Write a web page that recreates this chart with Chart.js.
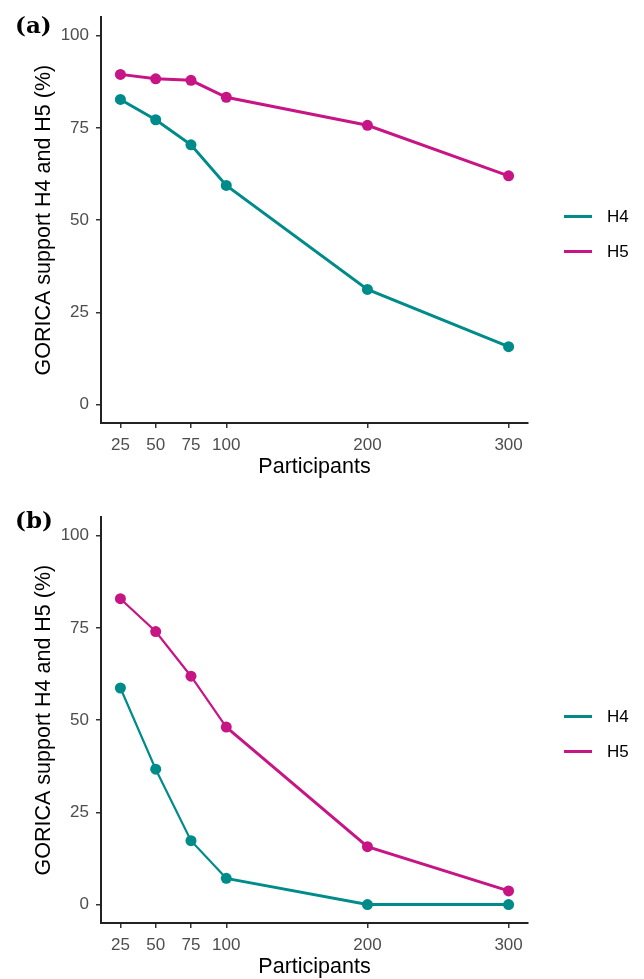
<!DOCTYPE html>
<html><head><meta charset="utf-8">
<script src="https://cdn.jsdelivr.net/npm/chart.js@4.4.0/dist/chart.umd.min.js"></script>
<style>
html,body{margin:0;padding:0;background:#fff;overflow:hidden;}
.wrap{position:absolute;left:0;width:644px;height:489px;}
</style></head><body>
<div class="wrap" style="top:0"><canvas id="ca" width="644" height="489"></canvas></div>
<div class="wrap" style="top:500px"><canvas id="cb" width="644" height="489"></canvas></div>
<script>
// ---- data ----
const participants = [25, 50, 75, 100, 200, 300];
const xTicks = [25, 50, 75, 100, 200, 300];
const yTicks = [0, 25, 50, 75, 100];
const seriesNames = ['H4', 'H5'];
const panelAH4 = [82.7, 77.2, 70.4, 59.4, 31.2, 15.7];
const panelAH5 = [89.5, 88.3, 87.9, 83.3, 75.7, 62.0];
const panelBH4 = [58.7, 36.7, 17.3, 7.1, 0, 0];
const panelBH5 = [82.9, 74.0, 61.9, 48.1, 15.7, 3.7];
const panelLabels = ['(a)', '(b)'];
const xTitle = 'Participants';
const yTitle = 'GORICA support H4 and H5 (%)';

// ---- styles ----
const COLORS = ['#008B8B', '#C71585'];
const SANS = "'Liberation Sans', Arial, sans-serif";

const sideLegend = {
  id: 'sideLegend',
  afterDraw(chart, args, o) {
    const ctx = chart.ctx;
    const ds = chart.data.datasets;
    const y0 = o.centerY - (ds.length - 1) * o.spacing / 2;
    ctx.save();
    ds.forEach((d, i) => {
      const y = y0 + i * o.spacing;
      ctx.strokeStyle = d.borderColor;
      ctx.lineWidth = 3;
      ctx.beginPath(); ctx.moveTo(o.x, y); ctx.lineTo(o.x + o.lineLen, y); ctx.stroke();
      ctx.fillStyle = '#000';
      ctx.font = '17px ' + SANS;
      ctx.textBaseline = 'middle';
      ctx.textAlign = 'left';
      ctx.fillText(d.label, o.x + o.textGap, y + 1);
    });
    ctx.restore();
  }
};

const panelTag = {
  id: 'panelTag',
  afterDraw(chart, args, o) {
    const ctx = chart.ctx;
    ctx.save();
    ctx.fillStyle = '#000';
    ctx.font = "bold 23px 'DejaVu Serif', serif";
    ctx.textBaseline = 'middle';
    ctx.textAlign = 'left';
    ctx.fillText(o.text, o.x, o.y);
    ctx.restore();
  }
};

function makeChart(id, h4, h5, tag, tagY, thinSegments) {
  const seg = (ctx) => (thinSegments && ctx.p0DataIndex < 3) ? 2.2 : 3;
  const mk = (label, vals, color) => ({
    label: label,
    data: participants.map((p, i) => ({x: p, y: vals[i]})),
    borderColor: color,
    backgroundColor: color,
    borderWidth: 3,
    pointRadius: 5.5,
    pointBorderWidth: 0,
    pointBackgroundColor: color,
    tension: 0,
    segment: {borderWidth: seg}
  });
  return new Chart(document.getElementById(id), {
    type: 'line',
    data: {datasets: [mk(seriesNames[0], h4, COLORS[0]), mk(seriesNames[1], h5, COLORS[1])]},
    options: {
      responsive: false,
      animation: false,
      devicePixelRatio: 1,
      layout: {padding: {left: 0, top: 12, right: 116, bottom: 0}},
      plugins: {
        legend: {display: false},
        tooltip: {enabled: false},
        sideLegend: {x: 564, lineLen: 28, textGap: 43, centerY: 234, spacing: 35},
        panelTag: {text: tag, x: 15, y: tagY}
      },
      scales: {
        x: {
          type: 'linear',
          min: 11.25, max: 313.75,
          afterBuildTicks: (s) => { s.ticks = xTicks.map(v => ({value: v})); },
          afterFit: (s) => { s.height = 66; },
          grid: {display: true, drawOnChartArea: false, drawTicks: true, tickLength: 5, color: '#333', lineWidth: 1.5},
          border: {display: true, color: '#222', width: 2},
          ticks: {font: {family: SANS, size: 17}, color: '#4D4D4D', padding: 7, maxRotation: 0, autoSkip: false},
          title: {display: true, text: xTitle, color: '#000', font: {family: SANS, size: 21.5}, padding: {top: 0, bottom: 8.6}}
        },
        y: {
          type: 'linear',
          min: -5, max: 105,
          afterBuildTicks: (s) => { s.ticks = yTicks.map(v => ({value: v})); },
          afterFit: (s) => { s.width = 101; },
          grid: {display: true, drawOnChartArea: false, drawTicks: true, tickLength: 5, color: '#333', lineWidth: 1.5},
          border: {display: true, color: '#222', width: 2},
          ticks: {font: {family: SANS, size: 17}, color: '#4D4D4D', padding: 7, autoSkip: false},
          title: {display: true, text: yTitle, color: '#000', font: {family: SANS, size: 21.5}, padding: {top: 31.6, bottom: 0}}
        }
      }
    },
    plugins: [sideLegend, panelTag]
  });
}

makeChart('ca', panelAH4, panelAH5, panelLabels[0], 27.5, false);
makeChart('cb', panelBH4, panelBH5, panelLabels[1], 22.5, true);
</script>
</body></html>
